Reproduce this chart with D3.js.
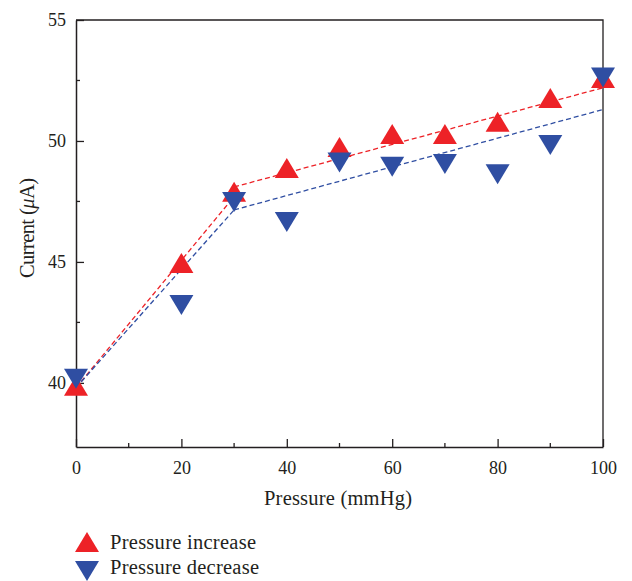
<!DOCTYPE html>
<html><head><meta charset="utf-8">
<script src="https://cdn.jsdelivr.net/npm/d3@7"></script>
<style>body{margin:0;background:#fff}svg{display:block}text{font-family:"Liberation Serif","Times New Roman",serif;fill:#231f20}</style>
</head><body>
<script>
const pressure = [0, 20, 30, 40, 50, 60, 70, 80, 90, 100];
const increase = [39.88, 44.96, 47.9, 48.88, 49.75, 50.29, 50.29, 50.79, 51.78, 52.6];
const decrease = [40.17, 43.22, 47.48, 46.65, 49.11, 48.93, 49.05, 48.62, 49.83, 52.62];
const fitIncrease = [[[0, 39.8], [30, 47.7]], [[30, 48.1], [100, 52.2]]];
const fitDecrease = [[[0, 39.8], [30, 47.15]], [[30, 47.15], [100, 51.3]]];
const xTicks = [0, 20, 40, 60, 80, 100];
const xMinor = [10, 30, 50, 70, 90];
const yTicks = [40, 45, 50, 55];
const yMinor = [42.5, 47.5, 52.5];
const seriesNames = ["Pressure increase", "Pressure decrease"];
const colors = ["#ed2227", "#2f4ea2"];

const W = 632, H = 581;
const m = {l: 76, r: 29, t: 20, b: 134};
const svg = d3.select("body").append("svg").attr("width", W).attr("height", H);
const x = d3.scaleLinear().domain([0, 100]).range([m.l, W - m.r]);
const y = d3.scaleLinear().domain([37.35, 55]).range([H - m.b, m.t]);
const ink = "#231f20";

// box top/right
svg.append("path").attr("d", `M${x(0)},${y(55)}H${x(100)}V${y(37.35)}`).attr("fill", "none").attr("stroke", ink).attr("stroke-width", 1.3);

// x axis
const gx = svg.append("g").attr("transform", `translate(0,${y(37.35)})`)
  .call(d3.axisBottom(x).tickValues(xTicks).tickSize(-8).tickPadding(14).tickSizeOuter(0));
gx.append("g").selectAll("line").data(xMinor).join("line")
  .attr("x1", d => x(d)).attr("x2", d => x(d)).attr("y1", 0).attr("y2", -4).attr("stroke", ink).attr("stroke-width", 1.3);
// y axis
const gy = svg.append("g").attr("transform", `translate(${x(0)},0)`)
  .call(d3.axisLeft(y).tickValues(yTicks).tickSize(-8).tickPadding(10).tickSizeOuter(0));
gy.append("g").selectAll("line").data(yMinor).join("line")
  .attr("y1", d => y(d)).attr("y2", d => y(d)).attr("x1", 0).attr("x2", 4).attr("stroke", ink).attr("stroke-width", 1.3);
[gx, gy].forEach(g => {
  g.select(".domain").attr("stroke", ink).attr("stroke-width", 1.5);
  g.selectAll(".tick line").attr("stroke", ink).attr("stroke-width", 1.3);
  g.selectAll(".tick text").attr("font-size", 18).attr("font-family", '"Liberation Serif",serif').attr("fill", ink);
});

// axis titles
svg.append("text").attr("x", 338).attr("y", 505).attr("text-anchor", "middle").attr("font-size", 20.5)
  .attr("textLength", 148).attr("lengthAdjust", "spacing").text("Pressure (mmHg)");
const yt = svg.append("text").attr("transform", `translate(34,228) rotate(-90)`).attr("text-anchor", "middle").attr("font-size", 20.5)
  .attr("textLength", 100).attr("lengthAdjust", "spacing");
yt.append("tspan").text("Current (");
yt.append("tspan").attr("font-style", "italic").text("μ");
yt.append("tspan").text("A)");

// fit lines
const line = d3.line().x(d => x(d[0])).y(d => y(d[1]));
[fitIncrease, fitDecrease].forEach((segs, i) => {
  segs.forEach(s => svg.append("path").attr("d", line(s)).attr("fill", "none")
    .attr("stroke", colors[i]).attr("stroke-width", 1.3).attr("stroke-dasharray", "5,3"));
});

// markers
const tw = 12, th = 10;
const up = `M${-tw},${th}L0,${-th}L${tw},${th}Z`;
const down = `M${-tw},${-th}L0,${th}L${tw},${-th}Z`;
[increase, decrease].forEach((vals, i) => {
  svg.append("g").selectAll("path").data(vals).join("path")
    .attr("transform", (d, j) => `translate(${x(pressure[j])},${y(d)})`)
    .attr("d", i === 0 ? up : down).attr("fill", colors[i]);
});

// legend
const legendLen = [146, 149];
seriesNames.forEach((n, i) => {
  const cy = 542 + i * 29;
  svg.append("path").attr("transform", `translate(87,${cy})`).attr("d", i === 0 ? up : down).attr("fill", colors[i]);
  svg.append("text").attr("x", 110).attr("y", 549 + i * 25).attr("font-size", 20.5)
    .attr("textLength", legendLen[i]).attr("lengthAdjust", "spacing").text(n);
});
</script>
</body></html>
